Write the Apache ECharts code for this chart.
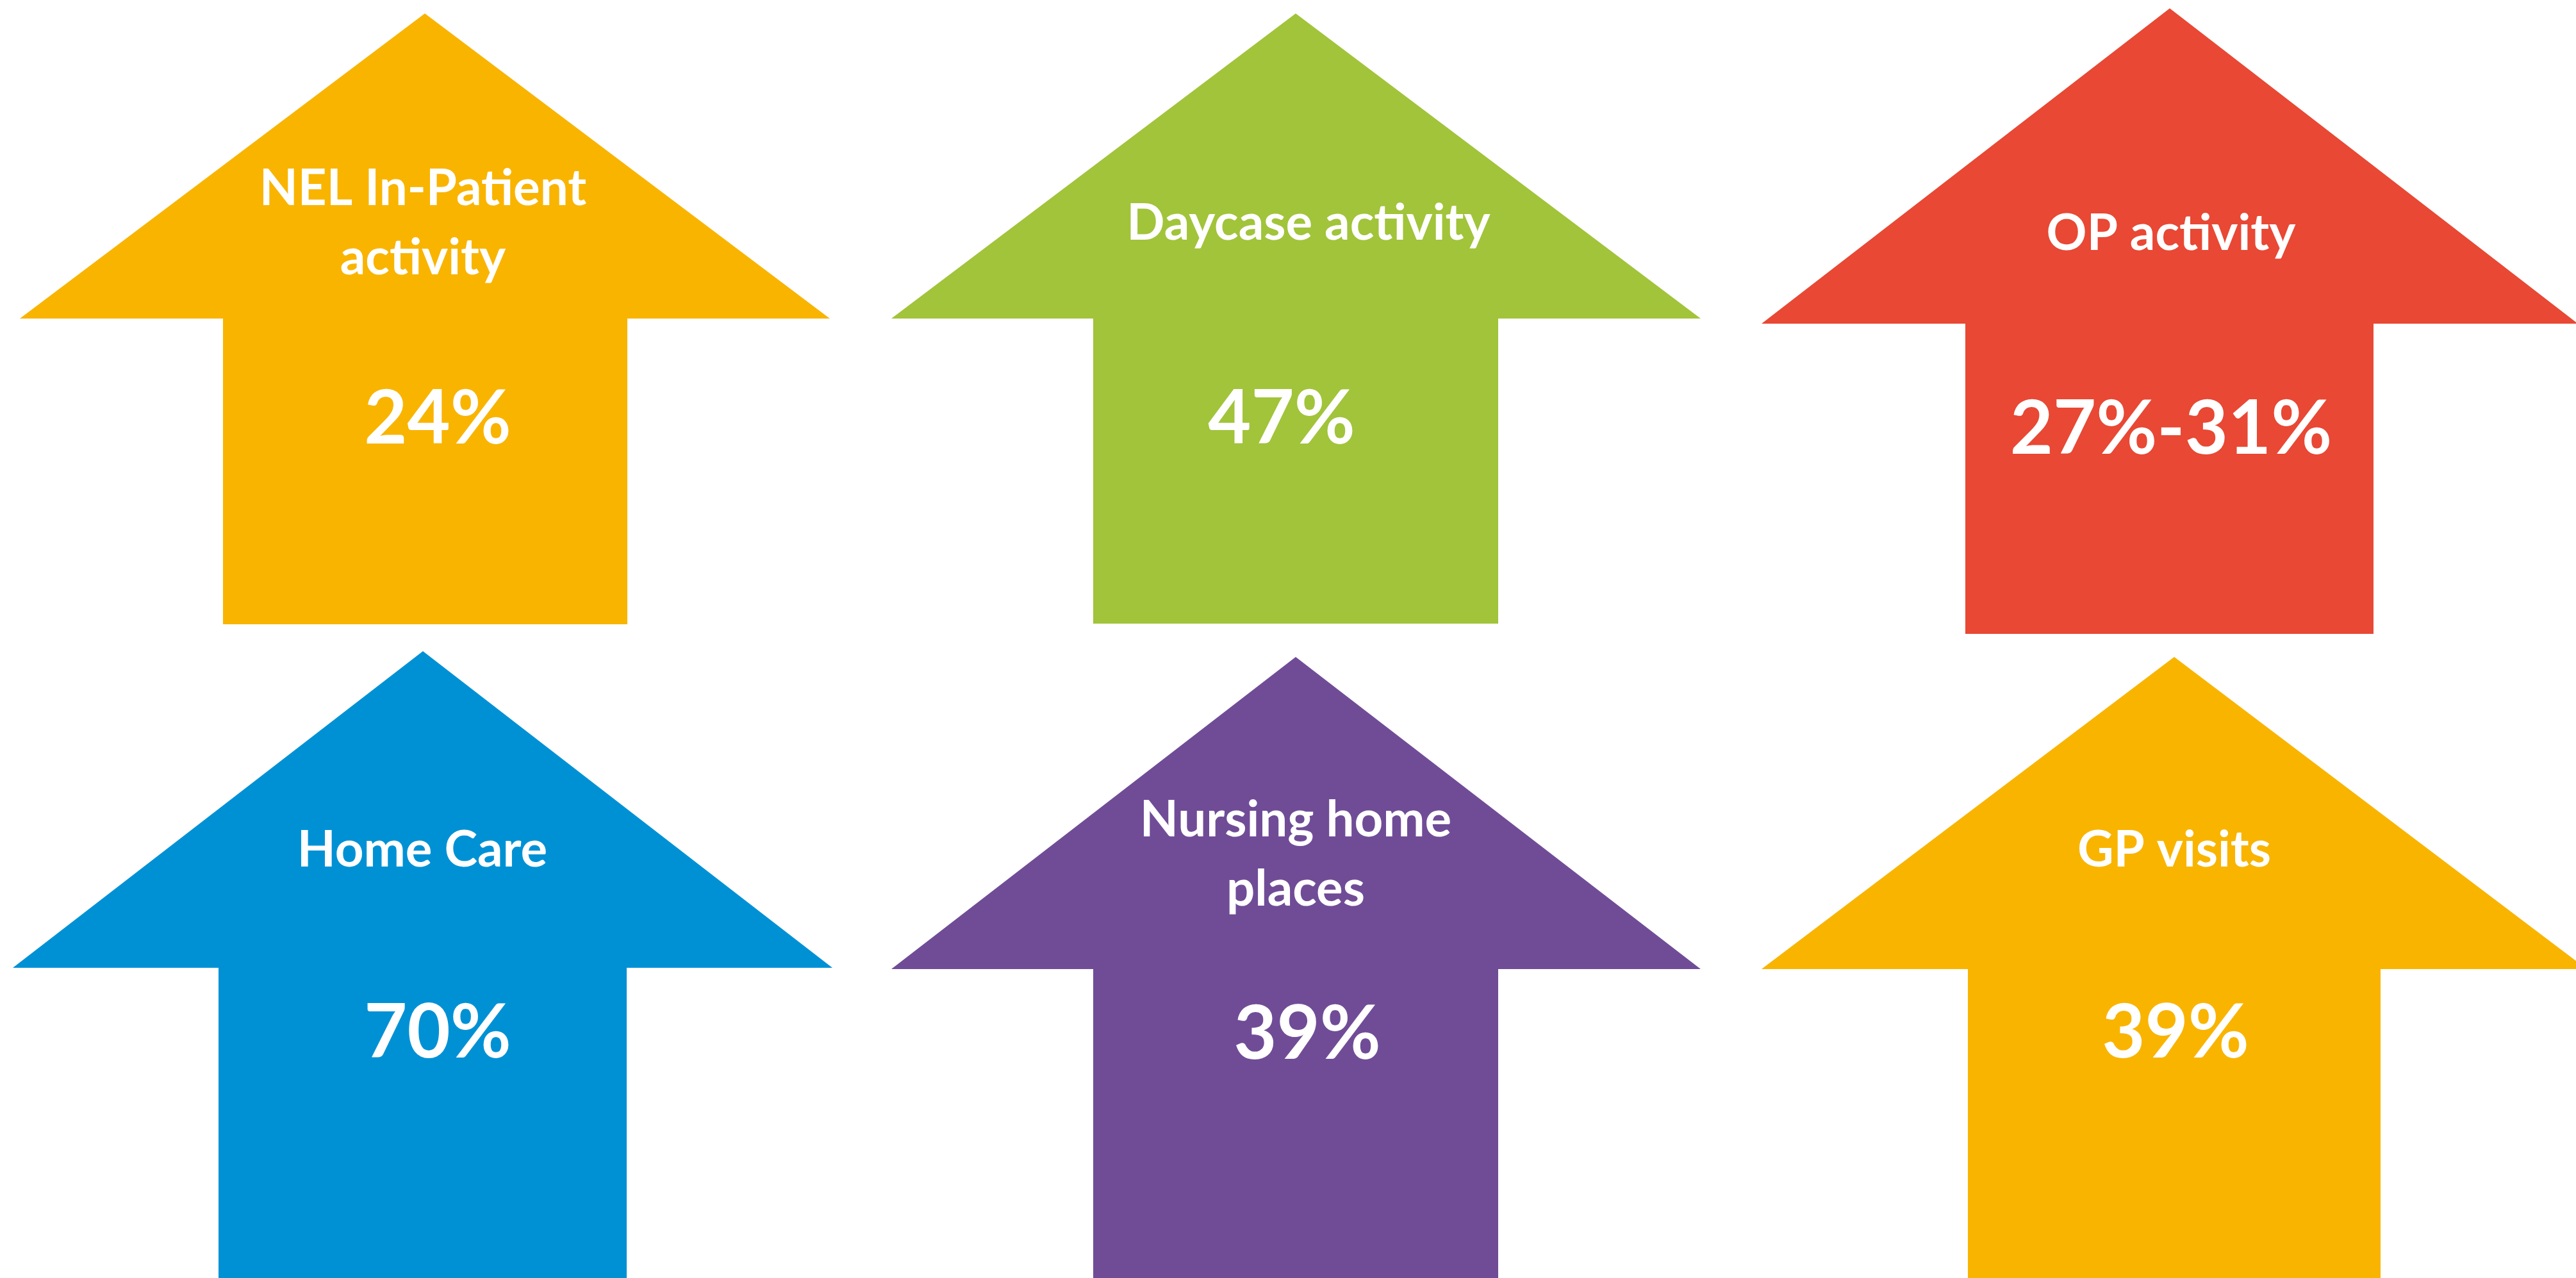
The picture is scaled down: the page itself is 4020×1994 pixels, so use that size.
<!DOCTYPE html>
<html><head><meta charset="utf-8">
<script src="https://cdn.jsdelivr.net/npm/echarts@6/dist/echarts.min.js"></script>
<style>html,body{margin:0;padding:0;background:#fff;overflow:hidden}#c{width:4020px;height:1994px}</style>
</head><body><div id="c"></div>
<script>
// ---- data ----
const categories = ['NEL In-Patient\nactivity', 'Daycase activity', 'OP activity', 'Home Care', 'Nursing home\nplaces', 'GP visits'];
const increaseLabels = ['24%', '47%', '27%-31%', '70%', '39%', '39%'];

// ---- style ----
const arrowColors = ['#F9B400', '#A1C43A', '#E84834', '#0091D5', '#704C97', '#F9B400'];

// ---- layout (chart units = pixels of the 4020x1994 canvas) ----
const tipX    = [663, 2022, 3386, 660, 2022, 3393];
const tipY    = [21, 21, 13, 1016, 1025, 1025];
const headY   = [497, 497, 505, 1510, 1512, 1512];
const headL   = [31, 1391, 2749, 20, 1391, 2749];
const headR   = [1295, 2654, 4023, 1299, 2654, 4037];
const shaftL  = [348, 1706, 3067, 341, 1706, 3071];
const shaftR  = [979, 2338, 3704, 978, 2338, 3715];
const bottomY = [974, 973, 989, 2010, 2010, 2010];
const titleX  = [660, 2042, 3388, 659, 2022, 3393];
const titleY  = [349, 349, 365, 1327, 1334, 1327];
const valueX  = [683, 2000, 3388, 683, 2040, 3395];
const valueY  = [655, 655, 671, 1613, 1615, 1613];

const chart = echarts.init(document.getElementById('c'), null, {renderer: 'canvas'});
chart.setOption({
  animation: false,
  backgroundColor: '#ffffff',
  grid: {left: 0, right: 0, top: 0, bottom: 0},
  xAxis: {type: 'value', min: 0, max: 4020, show: false},
  yAxis: {type: 'value', min: 0, max: 1994, inverse: true, show: false},
  series: [{
    type: 'custom',
    clip: false,
    data: categories.map((c, i) => [i]),
    renderItem: function (params, api) {
      const i = params.dataIndex;
      const P = (x, y) => api.coord([x, y]);
      const pts = [
        P(tipX[i], tipY[i]),
        P(headR[i], headY[i]),
        P(shaftR[i], headY[i]),
        P(shaftR[i], bottomY[i]),
        P(shaftL[i], bottomY[i]),
        P(shaftL[i], headY[i]),
        P(headL[i], headY[i])
      ];
      const t = P(titleX[i], titleY[i]);
      const v = P(valueX[i], valueY[i]);
      return {
        type: 'group',
        children: [
          {type: 'polygon', shape: {points: pts}, style: {fill: arrowColors[i]}},
          {type: 'text', x: t[0], y: t[1], style: {
            text: categories[i], fill: '#ffffff', fontFamily: 'Lato', fontWeight: 'bold',
            fontSize: 78, lineHeight: 108, align: 'center', verticalAlign: 'middle'}},
          {type: 'text', x: v[0], y: v[1], style: {
            text: increaseLabels[i], fill: '#ffffff', fontFamily: 'Lato', fontWeight: 'bold',
            fontSize: 116, align: 'center', verticalAlign: 'middle'}}
        ]
      };
    }
  }]
});
</script></body></html>
